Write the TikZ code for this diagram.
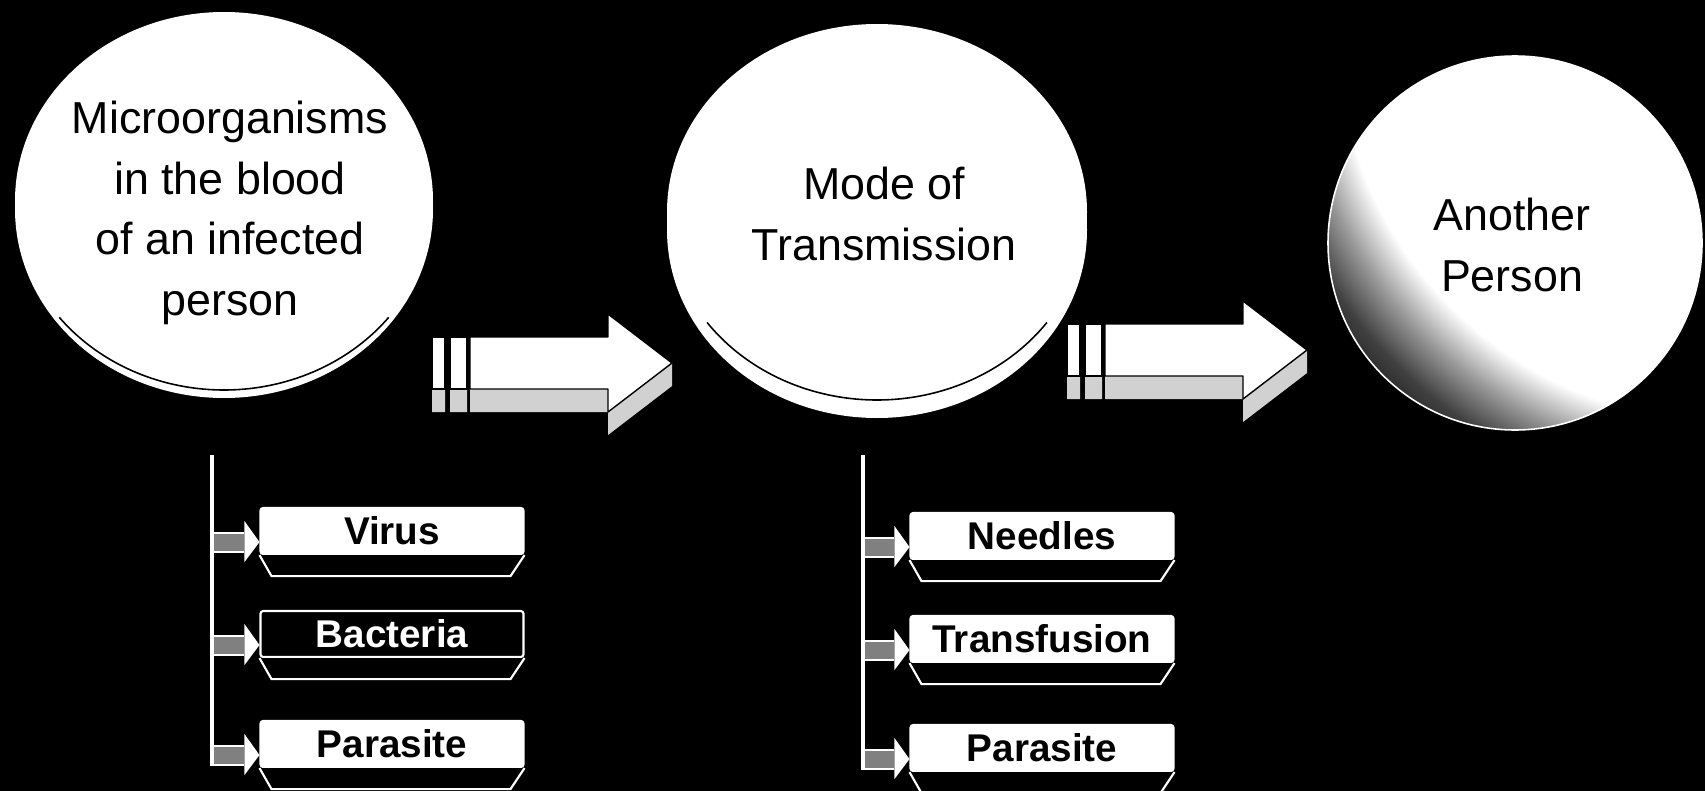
\documentclass[tikz,border=0pt]{standalone}
\usepackage{fontspec}
\setmainfont{Liberation Sans}
\usetikzlibrary{calc,positioning}

\pgfdeclareradialshading{persondark}{\pgfpoint{0bp}{0bp}}{color(0bp)=(white); color(19.5bp)=(white); color(21.5bp)=(black!40); color(23.5bp)=(black!75); color(25bp)=(black!85); color(50bp)=(black!85)}

\newcommand{\blockarrow}[1]{%
  \begin{scope}[shift={#1}]
    \fill[underside] (0,26) rectangle (13,49) (18,26) rectangle (35,49) (38,26) rectangle (176,49);
    \fill[underside] (176,49) -- (240,0) -- (240,23) -- (176,72) -- cycle;
    \filldraw[arrowface] (0,-26) rectangle (13,26) (18,-26) rectangle (35,26);
    \filldraw[arrowface] (38,-26) -- (176,-26) -- (176,-49) -- (240,0) -- (176,49) -- (176,26) -- (38,26) -- cycle;
  \end{scope}}

\begin{document}
\begin{tikzpicture}[x=0.02cm, y=-0.02cm,
    discface/.style={fill=white},
    rimline/.style={draw=black, line width=0.9pt},
    disctext/.style={align=center, inner sep=0pt, font=\fontsize{25.5}{34.5}\selectfont},
    itembox/.style={rectangle, draw=white, line width=1.2pt, fill=white, rounded corners=1.5pt, minimum width=5.26cm, minimum height=0.92cm, inner sep=0pt, font=\fontsize{22}{26}\selectfont\bfseries},
    darkbox/.style={fill=black, text=white},
    itembase/.style={draw=white, line width=1.2pt, fill=black},
    twig/.style={draw=white, line width=0.04cm, double=black!50, double distance=0.34cm},
    trunk/.style={draw=white, line width=0.08cm},
    arrowface/.style={fill=white, draw=black, line width=0.8pt, line join=round},
    underside/.style={fill=black!18}
]
    \useasboundingbox (0,0) rectangle (1705,791);
    \fill[black] (0,0) rectangle (1705,791);

    % discs
    \fill[discface] (224,209) ellipse [x radius=209, y radius=189];
    \fill[discface] (224,201) ellipse [x radius=209, y radius=189];
    \draw[rimline] (224,201) ++(38:209 and 189) arc [start angle=38, end angle=142, x radius=209, y radius=189];

    \fill[discface] (877,230) ellipse [x radius=210, y radius=188];
    \fill[discface] (877,212) ellipse [x radius=210, y radius=188];
    \draw[rimline] (877,212) ++(36:210 and 188) arc [start angle=36, end angle=144, x radius=210, y radius=188];

    \begin{scope}
        \clip (1515,243) circle [radius=187];
        \shade[shading=persondark] (1727,31) circle [radius=500];
    \end{scope}
    \draw[white, line width=0.9pt] (1515,243) circle [radius=187];

    \node[disctext] (micro) at (230,213) {Microorganisms\\in the blood\\of an infected\\person};
    \node[disctext] (mode) at (884,214) {Mode of\\Transmission};
    \node[disctext] (person) at (1512,245) {Another\\Person};

    \blockarrow{(432,363)}
    \blockarrow{(1067,350)}

    % items
    \node[itembox] (virus) at (392,531) {Virus};
    \node[itembox, darkbox] (bacteria) at (392,634) {Bacteria};
    \node[itembox] (parasiteA) at (392,744) {Parasite};
    \node[itembox] (needles) at (1042,536) {Needles};
    \node[itembox] (transfusion) at (1042,639) {Transfusion};
    \node[itembox] (parasiteB) at (1042,748) {Parasite};

    \coordinate (trunkA) at (212,455);
    \coordinate (trunkB) at (863,455);

    \foreach \b/\t in {virus/trunkA, bacteria/trunkA, parasiteA/trunkA, needles/trunkB, transfusion/trunkB, parasiteB/trunkB}{
        \draw[itembase] (\b.south west) -- ++(12,21) -- ($(\b.south east)+(-14,21)$) -- (\b.south east);
        \coordinate (\b-tip) at ($(\b.south west)+(0,-13)$);
        \draw[twig] (\t |- \b-tip) -- ($(\b-tip)+(-15,0)$);
        \fill[white] (\b-tip) -- ++(-15,-21) -- ++(0,41) -- cycle;
    }

    \draw[trunk] (trunkA) -- ($(trunkA |- parasiteA-tip)+(0,11)$);
    \draw[trunk] (trunkB) -- ($(trunkB |- parasiteB-tip)+(0,11)$);
\end{tikzpicture}
\end{document}
